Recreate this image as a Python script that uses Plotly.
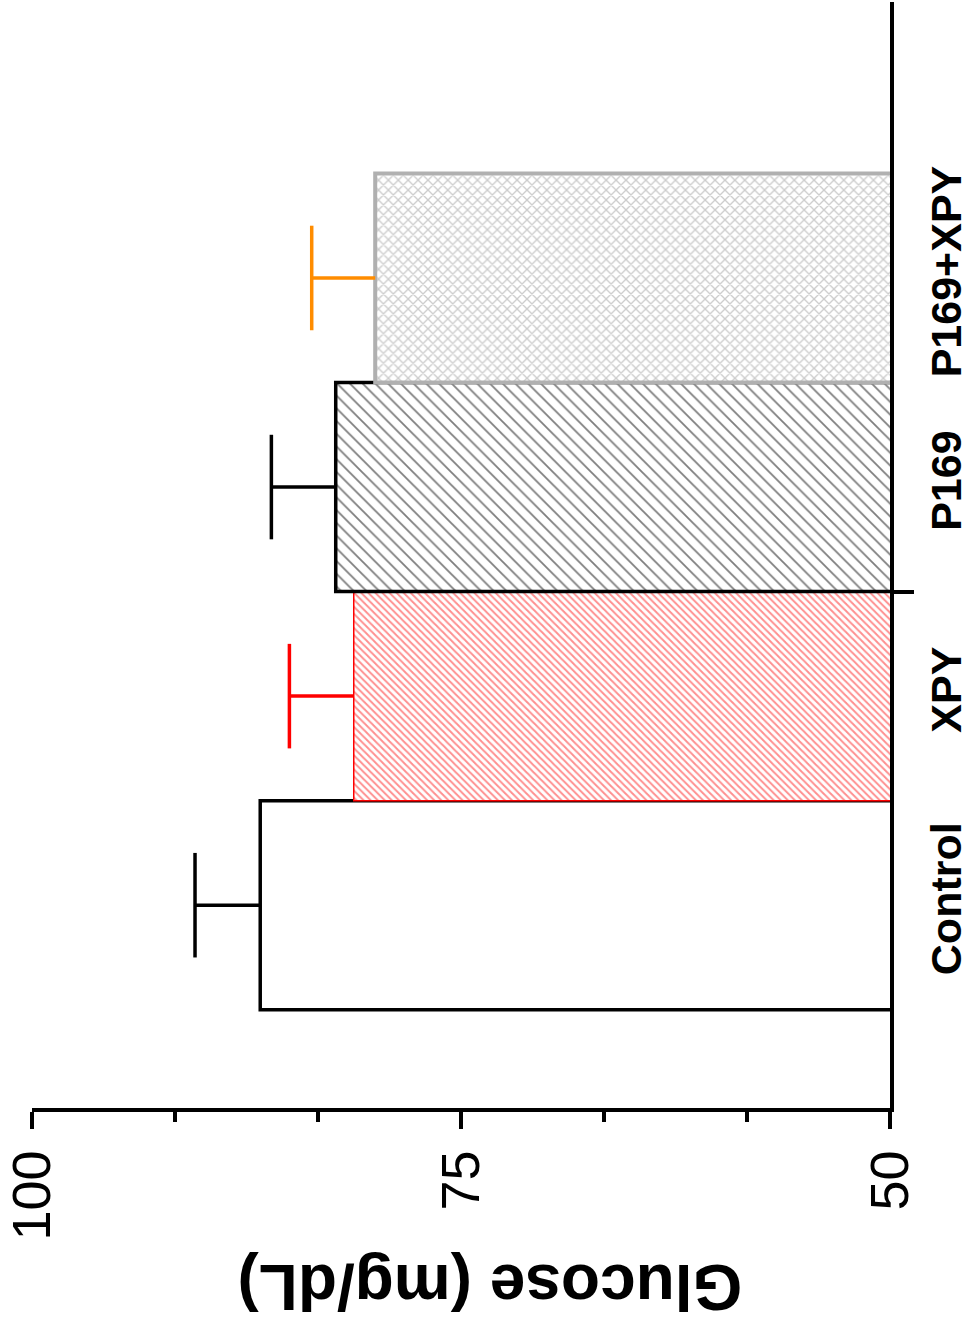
import plotly.graph_objects as go

categories = ["Control", "XPY", "P169", "P169+XPY"]
glucose = [86.7, 81.25, 82.3, 80.0]
sem = [3.8, 3.75, 3.75, 3.7]

line_colors = ["#000000", "#ff0000", "#000000", "#b0b0b0"]
line_widths = [3.5, 1.5, 3.5, 4]
err_colors = ["#000000", "#ff0000", "#000000", "#ff8c00"]
pat_shapes = ["", "\\", "\\", "x"]
pat_fg = ["#000000", "#ff2020", "#000000", "#999999"]
pat_size = [8, 5, 9, 7]
pat_solid = [0.2, 0.4, 0.2, 0.35]
cap_half = 0.25  # half-length of error-bar caps, in category units (style)

fig = go.Figure()
for i, cat in enumerate(categories):
    fig.add_trace(go.Bar(
        y=[i], x=[glucose[i]], orientation="h", width=1.0,
        marker=dict(color="white",
                    line=dict(color=line_colors[i], width=line_widths[i]),
                    pattern=dict(shape=pat_shapes[i], fgcolor=pat_fg[i], bgcolor="white",
                                 size=pat_size[i], solidity=pat_solid[i], fillmode="overlay")),
        name=cat, showlegend=False, hoverinfo="skip",
    ))
# one-sided error bars: stem from bar end to mean+SEM, cap at the upper end only
for i, cat in enumerate(categories):
    fig.add_trace(go.Scatter(
        x=[glucose[i] + sem[i]], y=[i], mode="markers",
        marker=dict(size=1, color="rgba(0,0,0,0)"),
        error_x=dict(type="data", symmetric=False, array=[0], arrayminus=[sem[i]],
                     color=err_colors[i], thickness=3.5, width=0),
        error_y=dict(type="data", symmetric=True, array=[cap_half],
                     color=err_colors[i], thickness=3.5, width=0),
        showlegend=False, hoverinfo="skip", cliponaxis=False,
    ))

fig.update_layout(
    width=976, height=1327,
    margin=dict(l=32, r=86, t=2, b=219, autoexpand=False),
    paper_bgcolor="white", plot_bgcolor="white",
    barmode="overlay",
    font=dict(family="Liberation Sans, Arial, sans-serif", color="black"),
    xaxis=dict(range=[100, 50], showgrid=False, zeroline=False, automargin=False,
               showline=True, linecolor="black", linewidth=3.5,
               tickmode="linear", tick0=50, dtick=25,
               ticks="outside", ticklen=17, tickwidth=3.5, tickcolor="black",
               minor=dict(tickmode="linear", tick0=50, dtick=25/3, ticks="outside",
                          ticklen=10, tickwidth=3.5, tickcolor="black", showgrid=False),
               tickangle=-90, tickfont=dict(size=54), ticklabelstandoff=0),
    yaxis=dict(range=[-0.97, 4.32], side="right", showgrid=False, zeroline=False,
               automargin=False,
               showline=True, linecolor="black", linewidth=3.5,
               tickvals=list(range(len(categories))),
               ticktext=[f"<b>{c}</b>" for c in categories],
               ticks="", tickangle=-90, ticklabelstandoff=16,
               tickfont=dict(size=43, family="Liberation Sans, Arial, sans-serif"),
               minor=dict(tickvals=[1.5], ticks="outside", ticklen=20, tickwidth=3.5,
                          tickcolor="black", showgrid=False)),
    annotations=[dict(text="<b>Glucose (mg/dL)</b>", textangle=180,
                      xref="paper", yref="paper", x=0.534, y=-0.162,
                      xanchor="center", yanchor="middle",
                      showarrow=False, font=dict(size=64))],
)

fig.write_html("out.html")
